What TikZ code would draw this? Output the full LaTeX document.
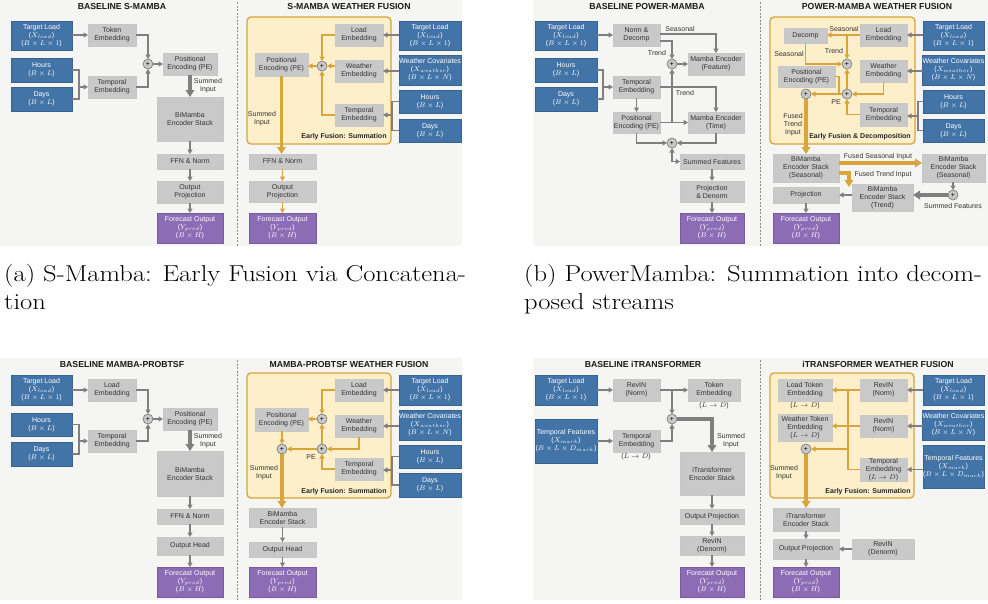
\documentclass[tikz,border=0pt]{standalone}
\usepackage{fontspec}
\usetikzlibrary{arrows.meta}
\newfontfamily\lsf{Liberation Sans}
\definecolor{bluebox}{HTML}{4374A8}
\definecolor{graybox}{HTML}{C9C9C9}
\definecolor{purplebox}{HTML}{8C6DB5}
\definecolor{yelfill}{HTML}{FCEFC9}
\definecolor{gold}{HTML}{D9A43A}
\definecolor{arrgray}{HTML}{7F7F7F}
\definecolor{panelbg}{HTML}{F5F5F3}
\tikzset{
 boxbase/.style={inner sep=0pt, outer sep=0pt, align=center, font=\lsf\fontsize{7}{8}\selectfont},
 bbox/.style={boxbase, fill=bluebox, draw=bluebox!85!black, line width=0.3pt, text=white},
 gbox/.style={boxbase, fill=graybox, draw=black!22, line width=0.3pt, text=black!80},
 pbox/.style={boxbase, fill=purplebox, draw=purplebox!85!black, line width=0.3pt, text=white},
 yframe/.style={boxbase, fill=yelfill, draw=gold, line width=1.3pt, rounded corners=4pt},
 plusnode/.style={circle, inner sep=0pt, outer sep=0pt, minimum size=10pt, fill=graybox, draw=black!55, line width=0.6pt, font=\lsf\fontsize{7}{7}\selectfont},
 ttl/.style={font=\lsf\bfseries\fontsize{8.7}{10}\selectfont, inner sep=0pt, text=black!90},
 lbl/.style={font=\lsf\fontsize{7}{8}\selectfont, inner sep=0pt, align=center, text=black!80},
 blbl/.style={font=\lsf\bfseries\fontsize{7}{8}\selectfont, inner sep=0pt, text=black!85},
 ga/.style={draw=arrgray, line width=1.4pt, -{Triangle[length=4.5pt,width=5pt]}},
 gl/.style={draw=arrgray, line width=1.4pt},
 gat/.style={draw=arrgray, line width=3.2pt, -{Triangle[length=7pt,width=8.5pt]}},
 ya/.style={draw=gold, line width=1.5pt, -{Triangle[length=4.5pt,width=5pt]}},
 yl/.style={draw=gold, line width=1.5pt},
 yat/.style={draw=gold, line width=3.2pt, -{Triangle[length=7pt,width=8.5pt]}},
 capt/.style={font=\fontsize{23}{27}\selectfont, inner sep=0pt, anchor=base west},
 divider/.style={draw=black!45, line width=0.6pt, dash pattern=on 2pt off 1.5pt}
}
\newcommand\bx[7]{\node[#2,minimum width={(#5)-(#3)},minimum height={(#6)-(#4)}] (#1) at ({((#3)+(#5))/2},{((#4)+(#6))/2}) {#7};}
\newcommand\TLtxt{Target Load\\($X_{load}$)\\($B\times L\times 1$)}
\newcommand\WCtxt{Weather Covariates\\($X_{weather}$)\\($B\times L\times N$)}
\newcommand\HRtxt{Hours\\($B\times L$)}
\newcommand\DYtxt{Days\\($B\times L$)}
\newcommand\FOtxt{Forecast Output\\($Y_{pred}$)\\($B\times H$)}
\newcommand\TFtxt{Temporal Features\\($X_{mark}$)\\($B\times L\times D_{mark}$)}
\newcommand\wide[1]{\scalebox{1.155}[1]{#1}}
\begin{document}
\begin{tikzpicture}[x=1pt,y=-1pt]
\useasboundingbox (0,0) rectangle (988,603);
\fill[white] (0,0) rectangle (988,603);
% panel backgrounds
\fill[panelbg] (0,0) rectangle (462,246);
\fill[panelbg] (533,0) rectangle (988,246);
\fill[panelbg] (0,358) rectangle (462,600);
\fill[panelbg] (533,358) rectangle (988,600);
\draw[divider] (237,2) -- (237,246);
\draw[divider] (760,2) -- (760,246);
\draw[divider] (237,360) -- (237,600);
\draw[divider] (760,360) -- (760,600);

% ================= PANEL A LEFT =================
\node[ttl] (aT1) at (122,7) {BASELINE S-MAMBA};
\bx{aTL}{bbox}{11}{21}{72}{50}{\TLtxt}
\bx{aHr}{bbox}{11}{58}{72}{82}{\HRtxt}
\bx{aDy}{bbox}{11}{87}{72}{111}{\DYtxt}
\bx{aTok}{gbox}{88}{24}{136}{46}{Token\\Embedding}
\bx{aTem}{gbox}{88}{76}{136}{98}{Temporal\\Embedding}
\node[plusnode] (aP) at (148,64) {+};
\bx{aPE}{gbox}{163}{53}{217}{75}{Positional\\Encoding (PE)}
\bx{aBi}{gbox}{157}{97}{223}{141}{BiMamba\\Encoder Stack}
\bx{aFF}{gbox}{157}{154}{223}{169}{FFN \& Norm}
\bx{aOP}{gbox}{157}{181}{223}{203}{Output\\Projection}
\bx{aFO}{pbox}{157}{213}{223}{243}{\FOtxt}
\node[lbl] (aSI) at (208,86) {Summed\\Input};
\coordinate (aBr) at (79,87);
\draw[ga] (aTL.east |- aTok.west) -- (aTok.west);
\draw[gl] (aHr.east) -| (aBr) |- (aDy.east);
\draw[ga] (aBr) -- (aTem.west);
\draw[ga] (aTok.east) -| (aP.north);
\draw[ga] (aTem.east) -| (aP.south);
\draw[ga] (aP.east) -- (aPE.west |- aP.east);
\draw[gat] (aPE.south) -- (aBi.north);
\draw[ga] (aBi.south) -- (aFF.north);
\draw[ga] (aFF.south) -- (aOP.north);
\draw[ga] (aOP.south) -- (aFO.north);

% ================= PANEL A RIGHT =================
\node[ttl] (aT2) at (349,7) {S-MAMBA WEATHER FUSION};
\bx{aY}{yframe}{247}{17}{391}{144}{}
\bx{aLE}{gbox}{335}{24}{383}{46}{Load\\Embedding}
\bx{aWE}{gbox}{335}{60}{383}{82}{Weather\\Embedding}
\bx{aTE2}{gbox}{335}{104}{383}{126}{Temporal\\Embedding}
\bx{aPE2}{gbox}{255}{53}{308}{76}{Positional\\Encoding (PE)}
\node[plusnode] (aP2) at (322,66) {+};
\bx{aTL2}{bbox}{399}{21}{461}{50}{\TLtxt}
\bx{aWC}{bbox}{399}{55}{461}{85}{\WCtxt}
\bx{aHr2}{bbox}{399}{90}{461}{113}{\HRtxt}
\bx{aDy2}{bbox}{399}{119}{461}{142}{\DYtxt}
\bx{aFF2}{gbox}{249}{154}{316}{169}{FFN \& Norm}
\bx{aOP2}{gbox}{249}{181}{316}{202}{Output\\Projection}
\bx{aFO2}{pbox}{249}{213}{316}{243}{\FOtxt}
\node[lbl] (aSI2) at (262,119) {Summed\\Input};
\node[blbl] (aEF) at (344,137) {Early Fusion: Summation};
\coordinate (aBr2) at (392,115);
\draw[ga] (aTL2.west |- aLE.east) -- (aLE.east);
\draw[ga] (aWC.west |- aWE.east) -- (aWE.east);
\draw[gl] (aHr2.west) -| (aBr2) |- (aDy2.west);
\draw[ga] (aBr2) -- (aTE2.east);
\draw[ya] (aLE.west) -| (aP2.north);
\draw[ya] (aWE.west |- aP2) -- (aP2.east);
\draw[ya] (aTE2.west) -| (aP2.south);
\draw[ya] (aP2.west) -- (aPE2.east |- aP2.west);
\draw[yat] (aPE2.south) -- (aPE2.south |- aFF2.north);
\draw[ya] (aFF2.south) -- (aOP2.north);
\draw[ya] (aOP2.south) -- (aFO2.north);

% ================= PANEL B LEFT =================
\node[ttl] (bT1) at (647,7) {BASELINE POWER-MAMBA};
\bx{bTL}{bbox}{535}{21}{597}{50}{\TLtxt}
\bx{bHr}{bbox}{535}{58}{597}{82}{\HRtxt}
\bx{bDy}{bbox}{535}{87}{597}{111}{\DYtxt}
\bx{bND}{gbox}{613}{24}{660}{46}{Norm \&\\Decomp}
\bx{bTE}{gbox}{613}{76}{660}{98}{Temporal\\Embedding}
\bx{bPE}{gbox}{613}{112}{660}{133}{Positional\\Encoding (PE)}
\node[plusnode] (bP1) at (672,64) {+};
\bx{bMF}{gbox}{688}{53}{744}{75}{Mamba Encoder\\(Feature)}
\bx{bMT}{gbox}{688}{112}{744}{133}{Mamba Encoder\\(Time)}
\node[plusnode] (bP2) at (672,143) {+};
\bx{bSF}{gbox}{680}{154}{744}{169}{Summed Features}
\bx{bPD}{gbox}{680}{181}{744}{202}{Projection\\\& Denorm}
\bx{bFO}{pbox}{680}{213}{744}{243}{\FOtxt}
\node[lbl] (bLs) at (680,29) {Seasonal};
\node[lbl] (bLt) at (657,53) {Trend};
\node[lbl] (bLt2) at (685,93) {Trend};
\coordinate (bBr) at (603,87);
\draw[ga] (bTL.east |- bND.west) -- (bND.west);
\draw[gl] (bHr.east) -| (bBr) |- (bDy.east);
\draw[ga] (bBr) -- (bTE.west);
\draw[ga] ([yshift=1pt]bND.east) -| (bMF.north);
\draw[ga] ([yshift=-6pt]bND.east) -| (bP1.north);
\draw[ga] (bP1.east) -- (bMF.west |- bP1.east);
\draw[ga] (bTE.south) -- (bPE.north);
\draw[ga] (bTE.east) -| (bMT.north);
\draw[ga] (bPE.east) -- (bMT.west |- bPE.east);
\draw[ga] (bPE.east -| bP1) -- (bP1.south);
\draw[ga] (bPE.south) |- (bP2.west);
\draw[ga] (bMT.south) |- (bP2.east);
\draw[arrgray, line width=1.4pt, {Triangle[length=4.5pt,width=5pt]}-{Triangle[length=4.5pt,width=5pt]}] (bP2.south) |- (bSF.west);
\draw[ga] (bSF.south) -- (bPD.north);
\draw[ga] (bPD.south) -- (bFO.north);

% ================= PANEL B RIGHT =================
\node[ttl] (bT2) at (877,7) {POWER-MAMBA WEATHER FUSION};
\bx{bY}{yframe}{770}{17}{915}{144}{}
\bx{bDc}{gbox}{784}{28}{827}{43}{Decomp}
\bx{bLE}{gbox}{860}{24}{907}{46}{Load\\Embedding}
\bx{bWE}{gbox}{860}{60}{907}{82}{Weather\\Embedding}
\bx{bTE2}{gbox}{860}{103}{907}{126}{Temporal\\Embedding}
\bx{bPE2}{gbox}{778}{66}{835}{87}{Positional\\Encoding (PE)}
\node[plusnode] (bPA) at (847,64) {+};
\node[plusnode] (bPB) at (847,94) {+};
\node[plusnode] (bPC) at (806,94) {+};
\bx{bTL2}{bbox}{923}{21}{984}{50}{\TLtxt}
\bx{bWC}{bbox}{923}{55}{984}{85}{\WCtxt}
\bx{bHr2}{bbox}{923}{90}{984}{113}{\HRtxt}
\bx{bDy2}{bbox}{923}{119}{984}{142}{\DYtxt}
\bx{bBS}{gbox}{773}{154}{839}{182}{BiMamba\\Encoder Stack\\(Seasonal)}
\bx{bBS2}{gbox}{922}{154}{985}{182}{BiMamba\\Encoder Stack\\(Seasonal)}
\bx{bBT}{gbox}{852}{184}{913}{211}{BiMamba\\Encoder Stack\\(Trend)}
\node[plusnode] (bPD2) at (953,195) {+};
\bx{bPj}{gbox}{773}{187}{839}{203}{Projection}
\bx{bFO2}{pbox}{773}{213}{839}{243}{\FOtxt}
\node[lbl] (bLs2) at (844,29) {Seasonal};
\node[lbl] (bLs3) at (789,54) {Seasonal};
\node[lbl] (bLt3) at (834,51) {Trend};
\node[lbl] (bLpe) at (836,102) {PE};
\node[lbl] (bLft) at (793,125) {Fused\\Trend\\Input};
\node[blbl] (bEF) at (860,137) {Early Fusion \& Decomposition};
\node[lbl] (bLfs) at (878,157) {Fused Seasonal Input};
\node[lbl] (bLft2) at (883,175) {Fused Trend Input};
\node[lbl] (bLsf) at (953,206) {Summed Features};
\coordinate (bBr2) at (918,116);
\coordinate (bJ) at (839,94);
\coordinate (bFT) at (849,187);
\draw[ga] (bTL2.west |- bLE.east) -- (bLE.east);
\draw[ga] (bWC.west |- bWE.east) -- (bWE.east);
\draw[gl] (bHr2.west) -| (bBr2) |- (bDy2.west);
\draw[ga] (bBr2) -- (bTE2.east |- bBr2);
\draw[ya] (bLE.west) -- (bDc.east |- bLE.west);
\draw[ya] (bPA |- bLE.west) -- (bPA.north);
\draw[ya] (bDc.south) |- (bPA.west);
\draw[ya] (bWE.south) |- (bPB.east);
\draw[ya] (bTE2.west) -| (bPB.south);
\draw[ya] (bPB.north) -- (bPA.south);
\draw[ya] (bPB.west) -- (bPC.east);
\draw[yl] (bPE2.east) -| (bJ);
\draw[yat] (bPC.south) -- (bPC |- bBS.north);
\draw[yat] ([yshift=5pt]bBS.east) -- ([yshift=5pt]bBS2.west);
\draw[yat] ([yshift=-5pt]bBS.east) -| (bFT);
\draw[ga] (bBS2.south -| bPD2) -- (bPD2.north);
\draw[gat] (bPD2.west) -- (bBT.east |- bPD2.west);
\draw[ga] (bBT.west |- bPj.east) -- (bPj.east);
\draw[ga] (bPj.south) -- (bFO2.north);

% ================= PANEL C LEFT =================
\node[ttl] (cT1) at (122,364) {BASELINE MAMBA-PROBTSF};
\bx{cTL}{bbox}{11}{375}{72}{405}{\TLtxt}
\bx{cHr}{bbox}{11}{413}{72}{436}{\HRtxt}
\bx{cDy}{bbox}{11}{442}{72}{466}{\DYtxt}
\bx{cLE}{gbox}{88}{379}{136}{401}{Load\\Embedding}
\bx{cTE}{gbox}{88}{430}{136}{452}{Temporal\\Embedding}
\node[plusnode] (cP) at (148,419) {+};
\bx{cPE}{gbox}{163}{408}{217}{430}{Positional\\Encoding (PE)}
\bx{cBi}{gbox}{157}{451}{223}{496}{BiMamba\\Encoder Stack}
\bx{cFF}{gbox}{157}{509}{223}{524}{FFN \& Norm}
\bx{cOH}{gbox}{157}{537}{223}{555}{Output Head}
\bx{cFO}{pbox}{157}{567}{223}{597}{\FOtxt}
\node[lbl] (cSI) at (208,441) {Summed\\Input};
\coordinate (cBr) at (79,441);
\draw[ga] (cTL.east |- cLE.west) -- (cLE.west);
\draw[gl] (cHr.east) -| (cBr) |- (cDy.east);
\draw[ga] (cBr) -- (cTE.west);
\draw[ga] (cLE.east) -| (cP.north);
\draw[ga] (cTE.east) -| (cP.south);
\draw[ga] (cP.east) -- (cPE.west |- cP.east);
\draw[gat] (cPE.south) -- (cBi.north);
\draw[ga] (cBi.south) -- (cFF.north);
\draw[ga] (cFF.south) -- (cOH.north);
\draw[ga] (cOH.south) -- (cFO.north);

% ================= PANEL C RIGHT =================
\node[ttl] (cT2) at (349,364) {MAMBA-PROBTSF WEATHER FUSION};
\bx{cY}{yframe}{247}{373}{391}{498}{}
\bx{cLE2}{gbox}{335}{379}{383}{401}{Load\\Embedding}
\bx{cWE2}{gbox}{335}{415}{383}{437}{Weather\\Embedding}
\bx{cTE2}{gbox}{335}{458}{383}{480}{Temporal\\Embedding}
\bx{cPE2}{gbox}{255}{408}{308}{431}{Positional\\Encoding (PE)}
\node[plusnode] (cPT) at (322,419) {+};
\node[plusnode] (cPM) at (322,449) {+};
\node[plusnode] (cPL) at (282,449) {+};
\bx{cTL2}{bbox}{399}{375}{461}{405}{\TLtxt}
\bx{cWC}{bbox}{399}{410}{461}{440}{\WCtxt}
\bx{cHr2}{bbox}{399}{445}{461}{468}{\HRtxt}
\bx{cDy2}{bbox}{399}{473}{461}{497}{\DYtxt}
\bx{cBi2}{gbox}{249}{508}{316}{527}{BiMamba\\Encoder Stack}
\bx{cOH2}{gbox}{249}{542}{316}{557}{Output Head}
\bx{cFO2}{pbox}{249}{567}{316}{597}{\FOtxt}
\node[lbl] (cLpe) at (311,457) {PE};
\node[lbl] (cSI2) at (264,473) {Summed\\Input};
\node[blbl] (cEF) at (344,492) {Early Fusion: Summation};
\coordinate (cBr2) at (392,470);
\draw[ga] (cTL2.west |- cLE2.east) -- (cLE2.east);
\draw[ga] (cWC.west |- cWE2.east) -- (cWE2.east);
\draw[gl] (cHr2.west) -| (cBr2) |- (cDy2.west);
\draw[ga] (cBr2) -- (cTE2.east |- cBr2);
\draw[ya] (cLE2.west) -| (cPT.north);
\draw[ya] (cPT.west) -- (cPE2.east |- cPT.west);
\draw[ya] (cWE2.south) |- (cPM.east);
\draw[ya] (cTE2.west) -| (cPM.south);
\draw[ya] (cPM.north) -- (cPT.south);
\draw[ya] (cPM.west) -- (cPL.east);
\draw[ya] (cPE2.south -| cPL) -- (cPL.north);
\draw[yat] (cPL.south) -- (cPL |- cBi2.north);
\draw[ga] (cBi2.south) -- (cOH2.north);
\draw[ga] (cOH2.south) -- (cFO2.north);

% ================= PANEL D LEFT =================
\node[ttl] (dT1) at (643,364) {BASELINE iTRANSFORMER};
\bx{dTL}{bbox}{535}{375}{597}{405}{\TLtxt}
\bx{dTF}{bbox}{535}{419}{597}{463}{\TFtxt}
\bx{dRN}{gbox}{613}{379}{660}{401}{RevIN\\(Norm)}
\bx{dTE}{gbox}{613}{430}{660}{452}{Temporal\\Embedding}
\node[lbl] (dLtd) at (636,457) {($L\to D$)};
\bx{dTok}{gbox}{688}{379}{740}{401}{Token\\Embedding}
\node[lbl] (dLtd2) at (714,406) {($L\to D$)};
\node[plusnode] (dP) at (672,419) {+};
\bx{dIT}{gbox}{680}{452}{744}{495}{iTransformer\\Encoder Stack}
\bx{dOP}{gbox}{680}{509}{744}{524}{Output Projection}
\bx{dRD}{gbox}{680}{536}{744}{555}{RevIN\\(Denorm)}
\bx{dFO}{pbox}{680}{567}{744}{597}{\FOtxt}
\node[lbl] (dSI) at (731,441) {Summed\\Input};
\draw[ga] (dTL.east |- dRN.west) -- (dRN.west);
\draw[ga] (dRN.east) -- (dTok.west);
\draw[ga] (dRN.east -| dP) -- (dP.north);
\draw[ga] (dTF.east |- dTE.west) -- (dTE.west);
\draw[ga] (dTE.east) -| (dP.south);
\draw[gat] (dP.east) -| (dIT.north);
\draw[ga] (dIT.south) -- (dOP.north);
\draw[ga] (dOP.south) -- (dRD.north);
\draw[ga] (dRD.south) -- (dFO.north);

% ================= PANEL D RIGHT =================
\node[ttl] (dT2) at (878,364) {iTRANSFORMER WEATHER FUSION};
\bx{dY}{yframe}{770}{373}{914}{498}{}
\bx{dLT}{gbox}{778}{379}{832}{401}{Load Token\\Embedding}
\node[lbl] (dLtd3) at (805,406) {($L\to D$)};
\bx{dWT}{gbox}{778}{414}{832}{441}{Weather Token\\Embedding\\($L\to D$)}
\node[plusnode] (dPp) at (806,449) {+};
\bx{dRN1}{gbox}{860}{379}{907}{401}{RevIN\\(Norm)}
\bx{dRN2}{gbox}{860}{415}{907}{437}{RevIN\\(Norm)}
\bx{dTE2}{gbox}{860}{458}{907}{481}{Temporal\\Embedding\\($L\to D$)}
\bx{dTL2}{bbox}{923}{375}{984}{405}{\TLtxt}
\bx{dWC}{bbox}{923}{410}{984}{440}{\WCtxt}
\bx{dTF2}{bbox}{923}{445}{984}{488}{\TFtxt}
\bx{dIT2}{gbox}{773}{508}{839}{531}{iTransformer\\Encoder Stack}
\bx{dOP2}{gbox}{773}{539}{839}{559}{Output Projection}
\bx{dRD2}{gbox}{852}{539}{914}{559}{RevIN\\(Denorm)}
\bx{dFO2}{pbox}{773}{567}{839}{597}{\FOtxt}
\node[lbl] (dSI2) at (784,473) {Summed\\Input};
\node[blbl] (dEF) at (868,492) {Early Fusion: Summation};
\coordinate (dV) at (848,390);
\draw[ga] (dTL2.west |- dRN1.east) -- (dRN1.east);
\draw[ga] (dWC.west |- dRN2.east) -- (dRN2.east);
\draw[ga] (dTF2.west |- dTE2.east) -- (dTE2.east);
\draw[ya] (dRN1.west) -- (dLT.east |- dRN1.west);
\draw[ya] (dRN2.west) -- (dWT.east |- dRN2.west);
\draw[yl] (dTE2.west) -| (dV);
\draw[ya] (dV |- dPp.east) -- (dPp.east);
\draw[yat] (dPp.south) -- (dPp |- dIT2.north);
\draw[ga] (dIT2.south) -- (dOP2.north);
\draw[ga] (dRD2.west) -- (dOP2.east);
\draw[ga] (dOP2.south) -- (dFO2.north);

% ================= CAPTIONS =================
\node[capt] (capA1) at (4,281) {\wide{(a) S-Mamba: Early Fusion via Concatena-}};
\node[capt] (capA2) at (4,309) {\wide{tion}};
\node[capt] (capB1) at (524,281) {\wide{(b) PowerMamba: Summation into decom-}};
\node[capt] (capB2) at (524,309) {\wide{posed streams}};
\end{tikzpicture}
\end{document}
